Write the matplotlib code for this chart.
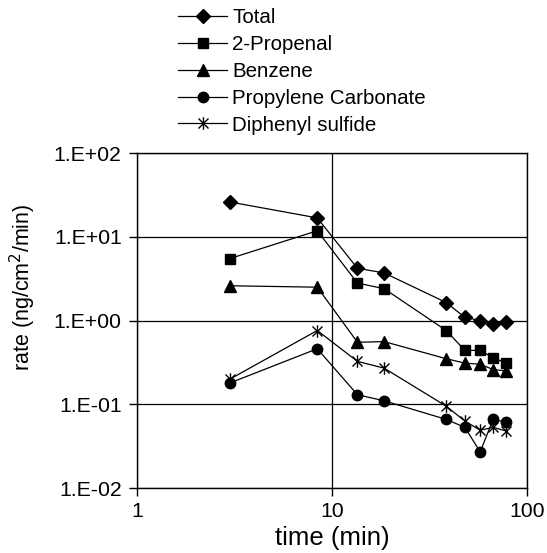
import numpy as np
import matplotlib.pyplot as plt
from matplotlib.path import Path
from matplotlib.ticker import FixedLocator, FuncFormatter, NullLocator

plt.rcParams['font.family'] = ['Liberation Sans', 'DejaVu Sans']

time_min = [3, 8.4, 13.5, 18.5, 38.5, 48, 57.5, 67, 78]

total = [26, 16.8, 4.2, 3.7, 1.64, 1.09, 1.0, 0.9, 0.95]
propenal = [5.5, 11.8, 2.8, 2.4, 0.76, 0.44, 0.44, 0.36, 0.31]
benzene = [2.6, 2.5, 0.55, 0.56, 0.35, 0.31, 0.30, 0.26, 0.25]
prop_carbonate = [0.18, 0.46, 0.13, 0.11, 0.066, 0.053, 0.027, 0.066, 0.061]
diphenyl = [0.2, 0.76, 0.325, 0.27, 0.095, 0.063, 0.049, 0.053, 0.048]

# asterisk marker: vertical stroke plus an X
star = Path([(0, -1), (0, 1), (-0.8, -0.8), (0.8, 0.8), (-0.8, 0.8), (0.8, -0.8)],
            [Path.MOVETO, Path.LINETO, Path.MOVETO, Path.LINETO, Path.MOVETO, Path.LINETO])

series = [
    ('Total', total, 'D', 7.5),
    ('2-Propenal', propenal, 's', 7.5),
    ('Benzene', benzene, '^', 8.5),
    ('Propylene Carbonate', prop_carbonate, 'o', 7.5),
    ('Diphenyl sulfide', diphenyl, star, 9),
]

fig = plt.figure(figsize=(5.47, 5.53), dpi=100)
ax = fig.add_axes([0.2505, 0.1175, 0.713, 0.6058])

for name, vals, mk, ms in series:
    ax.plot(time_min, vals, color='black', lw=0.9, marker=mk, markersize=ms,
            markeredgewidth=1.0, markerfacecolor='black', label=name)

ax.set_xscale('log')
ax.set_yscale('log')
ax.set_xlim(1, 100)
ax.set_ylim(0.01, 100)

ax.xaxis.set_major_locator(FixedLocator([1, 10, 100]))
ax.xaxis.set_minor_locator(NullLocator())
ax.xaxis.set_major_formatter(FuncFormatter(lambda v, p: '%g' % v))
ax.yaxis.set_major_locator(FixedLocator([0.01, 0.1, 1, 10, 100]))
ax.yaxis.set_minor_locator(NullLocator())
ax.yaxis.set_major_formatter(FuncFormatter(lambda v, p: '1.E%+03d' % int(round(np.log10(v)))))

ax.tick_params(axis='both', direction='out', length=6, width=1, labelsize=15.3, color='black')
ax.tick_params(axis='x', pad=4)
ax.tick_params(axis='y', pad=5)
ax.grid(True, which='major', color='black', lw=0.9)
for s in ax.spines.values():
    s.set_color('black')
    s.set_linewidth(1.0)

ax.set_xlabel('time (min)', fontsize=18.5, labelpad=4)
ax.set_ylabel('rate (ng/cm$^2$/min)', fontsize=15.5)
ax.yaxis.set_label_coords(-0.254, 0.6)

fig.legend(loc='upper left', bbox_to_anchor=(0.299, 1.011), frameon=False,
           fontsize=14.8, handlelength=2.4, handletextpad=0.25, labelspacing=0.38,
           borderpad=0.2)

plt.savefig('out.png', dpi=100)
